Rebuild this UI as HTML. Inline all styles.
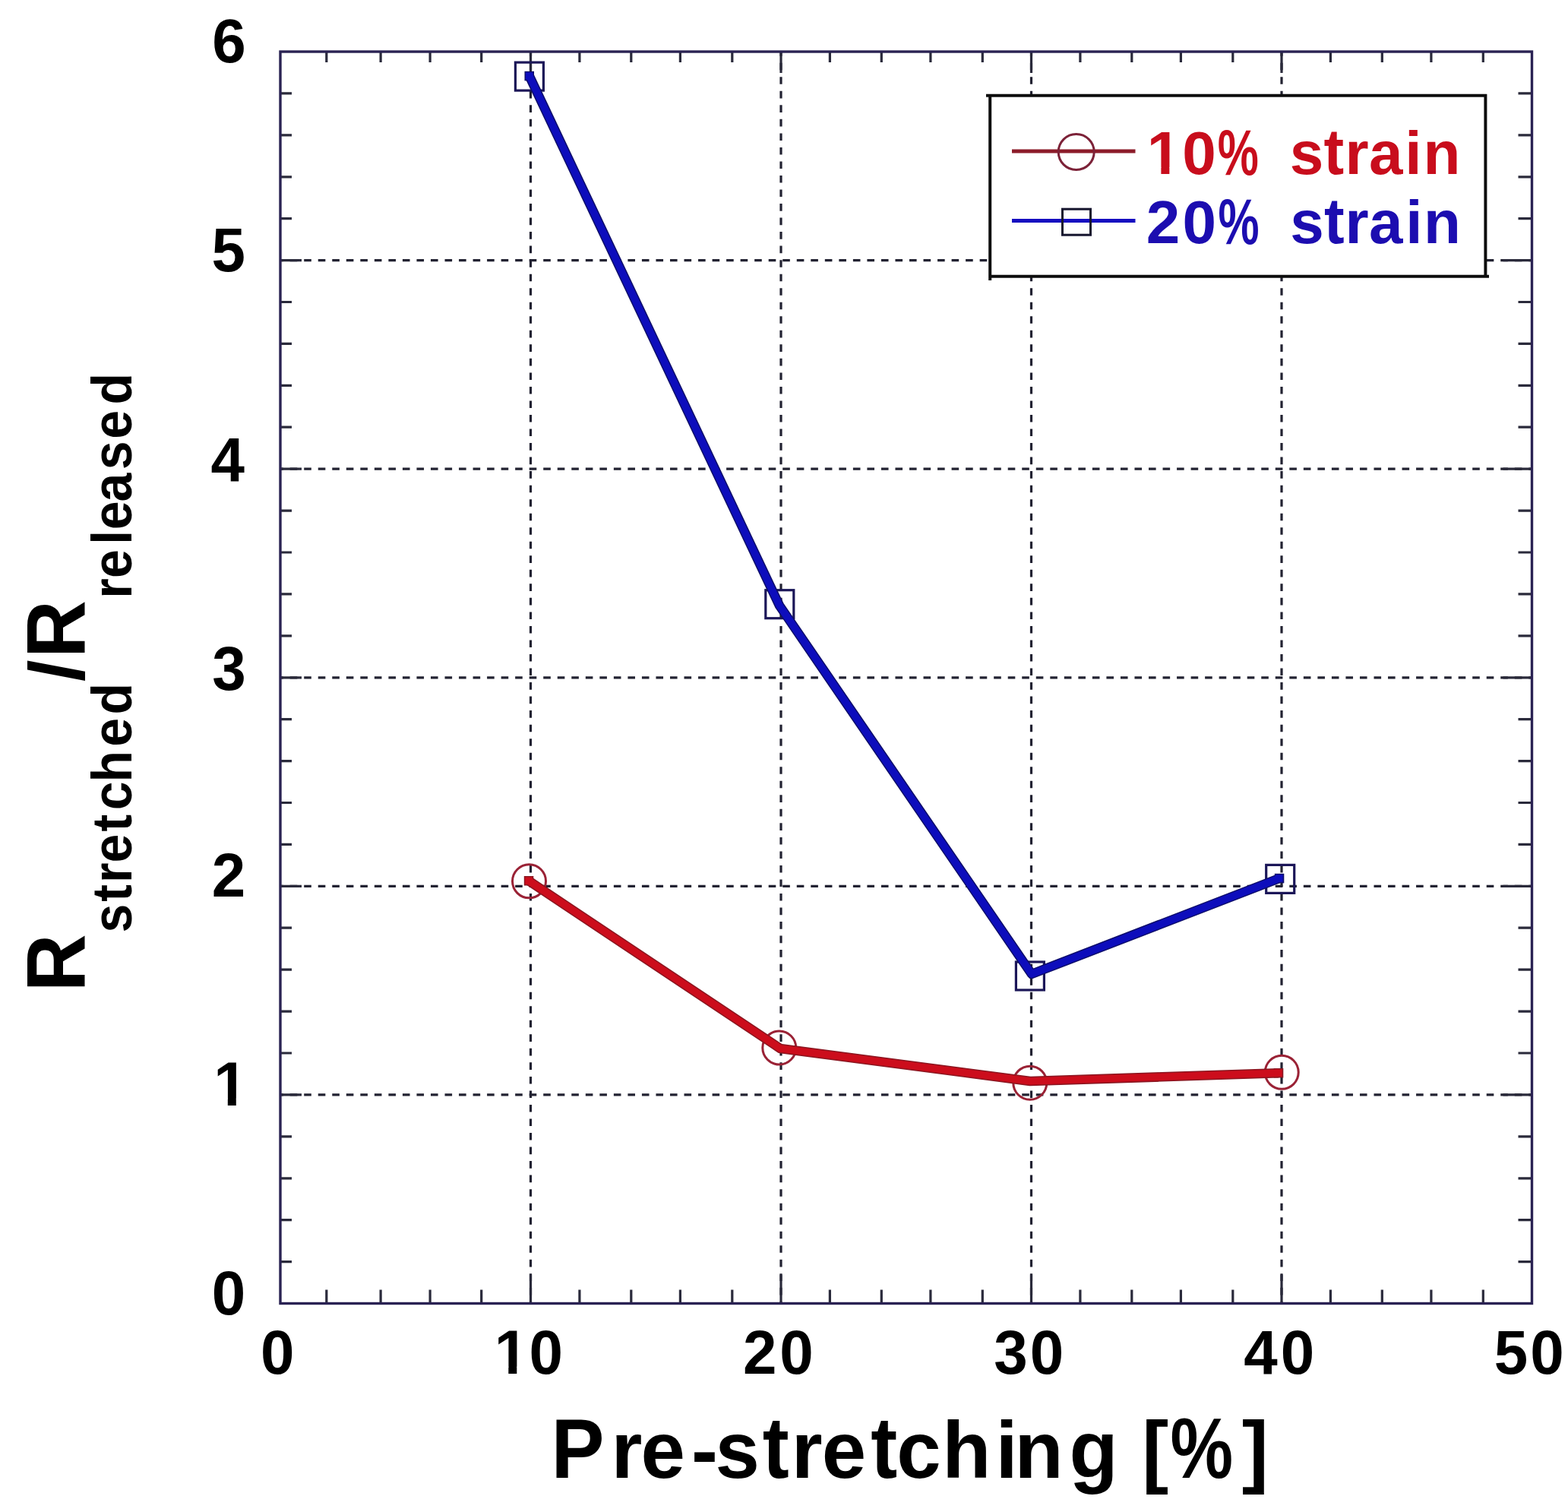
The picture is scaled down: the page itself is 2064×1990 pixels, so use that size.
<!DOCTYPE html><html><head><meta charset="utf-8"><title>Chart</title><style>
html,body{margin:0;padding:0;background:#fff;overflow:hidden}
svg{display:block}
text{font-family:"Liberation Sans",Arial,Helvetica,sans-serif;font-weight:bold}
</style></head><body>
<svg xmlns="http://www.w3.org/2000/svg" width="2064" height="1990" viewBox="0 0 2064 1990">
<defs><clipPath id="c1"><rect x="-5" y="-80.0" width="80.0" height="71.14"/><rect x="18.67" y="-10.16" width="10.98" height="14.16"/></clipPath><clipPath id="c2"><rect x="-5" y="-80.0" width="80.0" height="71.14"/><rect x="18.67" y="-10.16" width="10.98" height="14.16"/></clipPath><clipPath id="c3"><rect x="-5" y="-80.0" width="80.0" height="71.14"/><rect x="18.67" y="-10.16" width="10.98" height="14.16"/></clipPath><filter id="soft" x="0" y="0" width="1" height="1"><feGaussianBlur stdDeviation="0.6"/></filter></defs>
<g filter="url(#soft)"><rect x="0" y="0" width="2064" height="1990" fill="#fff"/>
<path d="M698.5 68.0V1715.5M1028.0 68.0V1715.5M1357.5 68.0V1715.5M1687.0 68.0V1715.5" stroke="#222230" stroke-width="3.2" stroke-dasharray="9.6 8.93" stroke-dashoffset="3.8" fill="none"/>
<path d="M369.0 1440.9H2016.5M369.0 1166.3H2016.5M369.0 891.8H2016.5M369.0 617.2H2016.5M369.0 342.6H2016.5" stroke="#222230" stroke-width="3.2" stroke-dasharray="9.6 8.93" stroke-dashoffset="5.85" fill="none"/>
<path d="M429.8 1715.5v-18M429.8 68.0v14M501.1 1715.5v-18M501.1 68.0v14M566.1 1715.5v-18M566.1 68.0v14M633.7 1715.5v-18M633.7 68.0v14M762.9 1715.5v-18M762.9 68.0v14M830.8 1715.5v-18M830.8 68.0v14M895.4 1715.5v-18M895.4 68.0v14M963.8 1715.5v-18M963.8 68.0v14M698.5 1715.5v-38M698.5 68.0v28M1092.4 1715.5v-18M1092.4 68.0v14M1160.3 1715.5v-18M1160.3 68.0v14M1224.9 1715.5v-18M1224.9 68.0v14M1293.3 1715.5v-18M1293.3 68.0v14M1028.0 1715.5v-38M1028.0 68.0v28M1421.9 1715.5v-18M1421.9 68.0v14M1489.8 1715.5v-18M1489.8 68.0v14M1554.4 1715.5v-18M1554.4 68.0v14M1622.8 1715.5v-18M1622.8 68.0v14M1357.5 1715.5v-38M1357.5 68.0v28M1751.4 1715.5v-18M1751.4 68.0v14M1819.3 1715.5v-18M1819.3 68.0v14M1883.9 1715.5v-18M1883.9 68.0v14M1952.3 1715.5v-18M1952.3 68.0v14M1687.0 1715.5v-38M1687.0 68.0v28M369.0 1660.6h15M2016.5 1660.6h-18M369.0 1605.7h15M2016.5 1605.7h-18M369.0 1550.8h15M2016.5 1550.8h-18M369.0 1495.8h15M2016.5 1495.8h-18M369.0 1440.9h28M2016.5 1440.9h-38M369.0 1386.0h15M2016.5 1386.0h-18M369.0 1331.1h15M2016.5 1331.1h-18M369.0 1276.2h15M2016.5 1276.2h-18M369.0 1221.2h15M2016.5 1221.2h-18M369.0 1166.3h28M2016.5 1166.3h-38M369.0 1111.4h15M2016.5 1111.4h-18M369.0 1056.5h15M2016.5 1056.5h-18M369.0 1001.6h15M2016.5 1001.6h-18M369.0 946.7h15M2016.5 946.7h-18M369.0 891.8h28M2016.5 891.8h-38M369.0 836.8h15M2016.5 836.8h-18M369.0 781.9h15M2016.5 781.9h-18M369.0 727.0h15M2016.5 727.0h-18M369.0 672.1h15M2016.5 672.1h-18M369.0 617.2h28M2016.5 617.2h-38M369.0 562.2h15M2016.5 562.2h-18M369.0 507.3h15M2016.5 507.3h-18M369.0 452.4h15M2016.5 452.4h-18M369.0 397.5h15M2016.5 397.5h-18M369.0 342.6h28M2016.5 342.6h-38M369.0 287.7h15M2016.5 287.7h-18M369.0 232.8h15M2016.5 232.8h-18M369.0 177.8h15M2016.5 177.8h-18M369.0 122.9h15M2016.5 122.9h-18" stroke="#2a2a3a" stroke-width="3.2" fill="none"/>
<rect x="369.0" y="68.0" width="1647.5" height="1647.5" fill="none" stroke="#2a2452" stroke-width="3.4"/>
<rect x="678.4" y="82.1" width="37" height="37" fill="none" stroke="#1a1858" stroke-width="3.2"/>
<rect x="1007.8" y="776.7" width="37" height="37" fill="none" stroke="#1a1858" stroke-width="3.2"/>
<rect x="1337.4" y="1266.0" width="37" height="37" fill="none" stroke="#1a1858" stroke-width="3.2"/>
<rect x="1666.7" y="1138.4" width="37" height="37" fill="none" stroke="#1a1858" stroke-width="3.2"/>
<circle cx="696.5" cy="1159.8" r="22" fill="none" stroke="#9a2236" stroke-width="3"/>
<circle cx="1025.8" cy="1379.0" r="22" fill="none" stroke="#9a2236" stroke-width="3"/>
<circle cx="1355.8" cy="1425.2" r="22" fill="none" stroke="#9a2236" stroke-width="3"/>
<circle cx="1687.2" cy="1411.3" r="22" fill="none" stroke="#9a2236" stroke-width="3"/>
<g fill="#8a1420"><path d="M696.0 1159.3 L1027.0 1380.0 L1356.0 1423.0 L1683.0 1412.3" fill="none" stroke="#8a1420" stroke-width="12.5" stroke-linejoin="round"/><rect x="689.8" y="1153.0" width="12.5" height="12.5"/><rect x="1676.8" y="1406.0" width="12.5" height="12.5"/></g>
<g fill="#cc101e"><path d="M696.0 1159.3 L1027.0 1380.0 L1356.0 1423.0 L1683.0 1412.3" fill="none" stroke="#cc101e" stroke-width="9.5" stroke-linejoin="round"/><rect x="691.2" y="1154.5" width="9.5" height="9.5"/><rect x="1678.2" y="1407.5" width="9.5" height="9.5"/></g>
<g fill="#0c0c6a"><path d="M696.8 100.0 L1026.0 797.0 L1358.0 1282.0 L1684.0 1156.0" fill="none" stroke="#0c0c6a" stroke-width="12.5" stroke-linejoin="round"/><rect x="690.5" y="93.8" width="12.5" height="12.5"/><rect x="1677.8" y="1149.8" width="12.5" height="12.5"/></g>
<g fill="#0a08bc"><path d="M696.8 100.0 L1026.0 797.0 L1358.0 1282.0 L1684.0 1156.0" fill="none" stroke="#0a08bc" stroke-width="9.5" stroke-linejoin="round"/><rect x="692.0" y="95.2" width="9.5" height="9.5"/><rect x="1679.2" y="1151.2" width="9.5" height="9.5"/></g>
<rect x="1303.2" y="126.0" width="652.3" height="237.8" fill="#fff"/>
<path d="M1298 125.8H1957.2M1303.2 124V369M1301.2 363.7H1960M1955.4 124V365.6" stroke="#111" stroke-width="4" fill="none"/>
<path d="M1332 199H1494.5" stroke="#8c1c2a" stroke-width="5"/>
<circle cx="1416.7" cy="200" r="23.5" fill="none" stroke="#7c2238" stroke-width="3"/>
<path d="M1332 290.5H1494.5" stroke="#1410c0" stroke-width="5"/>
<rect x="1398.5" y="275.2" width="37" height="34" fill="none" stroke="#14122e" stroke-width="3"/>
<g transform="translate(1509.69 228.80)"><text x="0" y="0" font-size="80" fill="#c8101e" clip-path="url(#c1)">1</text></g>
<g transform="translate(1556.16 228.80)"><text x="0" y="0" font-size="80" fill="#c8101e">0</text></g>
<g transform="translate(1602.81 230.30) scale(0.7600 1.0600)"><text x="0" y="0" font-size="80" fill="#c8101e">%</text></g>
<g transform="translate(1697.69 228.80)"><text x="0" y="0" font-size="80" fill="#c8101e">s</text></g>
<g transform="translate(1742.53 228.80) scale(1.0000 1.0600)"><text x="0" y="0" font-size="80" fill="#c8101e">t</text></g>
<g transform="translate(1770.40 228.80)"><text x="0" y="0" font-size="80" fill="#c8101e">r</text></g>
<g transform="translate(1801.93 228.80)"><text x="0" y="0" font-size="80" fill="#c8101e">a</text></g>
<g transform="translate(1849.13 228.80)"><text x="0" y="0" font-size="80" fill="#c8101e">i</text></g>
<g transform="translate(1873.61 228.80)"><text x="0" y="0" font-size="80" fill="#c8101e">n</text></g>
<g transform="translate(1508.87 319.50)"><text x="0" y="0" font-size="80" fill="#1a0cb0">2</text></g>
<g transform="translate(1556.46 319.50)"><text x="0" y="0" font-size="80" fill="#1a0cb0">0</text></g>
<g transform="translate(1603.41 321.00) scale(0.7600 1.0600)"><text x="0" y="0" font-size="80" fill="#1a0cb0">%</text></g>
<g transform="translate(1698.29 319.50)"><text x="0" y="0" font-size="80" fill="#1a0cb0">s</text></g>
<g transform="translate(1742.88 319.50) scale(1.0000 1.0600)"><text x="0" y="0" font-size="80" fill="#1a0cb0">t</text></g>
<g transform="translate(1770.60 319.50)"><text x="0" y="0" font-size="80" fill="#1a0cb0">r</text></g>
<g transform="translate(1801.93 319.50)"><text x="0" y="0" font-size="80" fill="#1a0cb0">a</text></g>
<g transform="translate(1850.33 319.50)"><text x="0" y="0" font-size="80" fill="#1a0cb0">i</text></g>
<g transform="translate(1873.91 319.50)"><text x="0" y="0" font-size="80" fill="#1a0cb0">n</text></g>
<g transform="translate(343.06 1807.80) scale(1.0000 1.0250)"><text x="0" y="0" font-size="80" fill="#000">0</text></g>
<g transform="translate(650.64 1807.80) scale(1.0000 1.0250)"><text x="0" y="0" font-size="80" fill="#000" clip-path="url(#c2)">1</text></g>
<g transform="translate(696.51 1807.80) scale(1.0000 1.0250)"><text x="0" y="0" font-size="80" fill="#000">0</text></g>
<g transform="translate(977.97 1807.80) scale(1.0000 1.0250)"><text x="0" y="0" font-size="80" fill="#000">2</text></g>
<g transform="translate(1026.16 1807.80) scale(1.0000 1.0250)"><text x="0" y="0" font-size="80" fill="#000">0</text></g>
<g transform="translate(1308.28 1807.80) scale(1.0000 1.0250)"><text x="0" y="0" font-size="80" fill="#000">3</text></g>
<g transform="translate(1355.66 1807.80) scale(1.0000 1.0250)"><text x="0" y="0" font-size="80" fill="#000">0</text></g>
<g transform="translate(1637.36 1807.80) scale(1.0000 1.0250)"><text x="0" y="0" font-size="80" fill="#000">4</text></g>
<g transform="translate(1685.66 1807.80) scale(1.0000 1.0250)"><text x="0" y="0" font-size="80" fill="#000">0</text></g>
<g transform="translate(1966.64 1807.80) scale(1.0000 1.0250)"><text x="0" y="0" font-size="80" fill="#000">5</text></g>
<g transform="translate(2014.26 1807.80) scale(1.0000 1.0250)"><text x="0" y="0" font-size="80" fill="#000">0</text></g>
<g transform="translate(279.23 82.30) scale(1.0000 1.0250)"><text x="0" y="0" font-size="80" fill="#000">6</text></g>
<g transform="translate(278.54 357.30) scale(1.0000 1.0250)"><text x="0" y="0" font-size="80" fill="#000">5</text></g>
<g transform="translate(277.56 632.80) scale(1.0000 1.0250)"><text x="0" y="0" font-size="80" fill="#000">4</text></g>
<g transform="translate(279.18 907.80) scale(1.0000 1.0250)"><text x="0" y="0" font-size="80" fill="#000">3</text></g>
<g transform="translate(278.67 1179.80) scale(1.0000 1.0250)"><text x="0" y="0" font-size="80" fill="#000">2</text></g>
<g transform="translate(281.14 1454.80) scale(1.0000 1.0250)"><text x="0" y="0" font-size="80" fill="#000" clip-path="url(#c3)">1</text></g>
<g transform="translate(278.66 1729.80) scale(1.0000 1.0250)"><text x="0" y="0" font-size="80" fill="#000">0</text></g>
<g transform="translate(725.52 1944.50) scale(1.0000 1.0650)"><text x="0" y="0" font-size="105" fill="#000">P</text></g>
<g transform="translate(804.60 1944.50)"><text x="0" y="0" font-size="105" fill="#000">r</text></g>
<g transform="translate(843.55 1944.50)"><text x="0" y="0" font-size="105" fill="#000">e</text></g>
<g transform="translate(910.12 1944.50)"><text x="0" y="0" font-size="105" fill="#000">-</text></g>
<g transform="translate(941.51 1944.50)"><text x="0" y="0" font-size="105" fill="#000">s</text></g>
<g transform="translate(1003.72 1944.50) scale(1.0000 1.1000)"><text x="0" y="0" font-size="105" fill="#000">t</text></g>
<g transform="translate(1041.65 1944.50)"><text x="0" y="0" font-size="105" fill="#000">r</text></g>
<g transform="translate(1081.85 1944.50)"><text x="0" y="0" font-size="105" fill="#000">e</text></g>
<g transform="translate(1146.17 1944.50) scale(1.0000 1.1000)"><text x="0" y="0" font-size="105" fill="#000">t</text></g>
<g transform="translate(1180.29 1944.50)"><text x="0" y="0" font-size="105" fill="#000">c</text></g>
<g transform="translate(1240.27 1944.50)"><text x="0" y="0" font-size="105" fill="#000">h</text></g>
<g transform="translate(1310.62 1944.50)"><text x="0" y="0" font-size="105" fill="#000">i</text></g>
<g transform="translate(1335.38 1944.50)"><text x="0" y="0" font-size="105" fill="#000">n</text></g>
<g transform="translate(1407.39 1944.50)"><text x="0" y="0" font-size="105" fill="#000">g</text></g>
<g transform="translate(1503.36 1944.50)"><text x="0" y="0" font-size="105" fill="#000">[</text></g>
<g transform="translate(1540.51 1944.50) scale(0.8850 1.0700)"><text x="0" y="0" font-size="105" fill="#000">%</text></g>
<g transform="translate(1634.82 1944.50)"><text x="0" y="0" font-size="105" fill="#000">]</text></g>
<g transform="rotate(-90) translate(-1305.37 111.50) scale(0.9550 1.0000)"><text x="0" y="0" font-size="110" fill="#000">R</text></g>
<g transform="rotate(-90) translate(-897.06 109.50) scale(0.9300 0.9280)"><text x="0" y="0" font-size="110" fill="#000">/</text></g>
<g transform="rotate(-90) translate(-866.07 111.50) scale(0.9550 1.0000)"><text x="0" y="0" font-size="110" fill="#000">R</text></g>
<g transform="rotate(-90) translate(-1227.53 172.50) scale(0.9200 1.0000)"><text x="0" y="0" font-size="74" fill="#000">s</text></g>
<g transform="rotate(-90) translate(-1186.84 172.50) scale(0.9200 1.0000)"><text x="0" y="0" font-size="74" fill="#000">t</text></g>
<g transform="rotate(-90) translate(-1162.08 172.50) scale(0.9200 1.0000)"><text x="0" y="0" font-size="74" fill="#000">r</text></g>
<g transform="rotate(-90) translate(-1135.50 172.50) scale(0.9200 1.0000)"><text x="0" y="0" font-size="74" fill="#000">e</text></g>
<g transform="rotate(-90) translate(-1094.44 172.50) scale(0.9200 1.0000)"><text x="0" y="0" font-size="74" fill="#000">t</text></g>
<g transform="rotate(-90) translate(-1066.36 172.50) scale(0.9200 1.0000)"><text x="0" y="0" font-size="74" fill="#000">c</text></g>
<g transform="rotate(-90) translate(-1029.41 172.50) scale(0.9200 1.0000)"><text x="0" y="0" font-size="74" fill="#000">h</text></g>
<g transform="rotate(-90) translate(-982.65 172.50) scale(0.9200 1.0000)"><text x="0" y="0" font-size="74" fill="#000">e</text></g>
<g transform="rotate(-90) translate(-940.50 172.50) scale(0.9200 1.0000)"><text x="0" y="0" font-size="74" fill="#000">d</text></g>
<g transform="rotate(-90) translate(-787.78 172.50) scale(0.9200 1.0000)"><text x="0" y="0" font-size="74" fill="#000">r</text></g>
<g transform="rotate(-90) translate(-761.10 172.50) scale(0.9200 1.0000)"><text x="0" y="0" font-size="74" fill="#000">e</text></g>
<g transform="rotate(-90) translate(-716.72 172.50) scale(0.9200 1.0000)"><text x="0" y="0" font-size="74" fill="#000">l</text></g>
<g transform="rotate(-90) translate(-697.15 172.50) scale(0.9200 1.0000)"><text x="0" y="0" font-size="74" fill="#000">e</text></g>
<g transform="rotate(-90) translate(-660.59 172.50) scale(0.9200 1.0000)"><text x="0" y="0" font-size="74" fill="#000">a</text></g>
<g transform="rotate(-90) translate(-618.33 172.50) scale(0.9200 1.0000)"><text x="0" y="0" font-size="74" fill="#000">s</text></g>
<g transform="rotate(-90) translate(-577.85 172.50) scale(0.9200 1.0000)"><text x="0" y="0" font-size="74" fill="#000">e</text></g>
<g transform="rotate(-90) translate(-532.55 172.50) scale(0.9200 1.0000)"><text x="0" y="0" font-size="74" fill="#000">d</text></g>
</g>
</svg></body></html>
